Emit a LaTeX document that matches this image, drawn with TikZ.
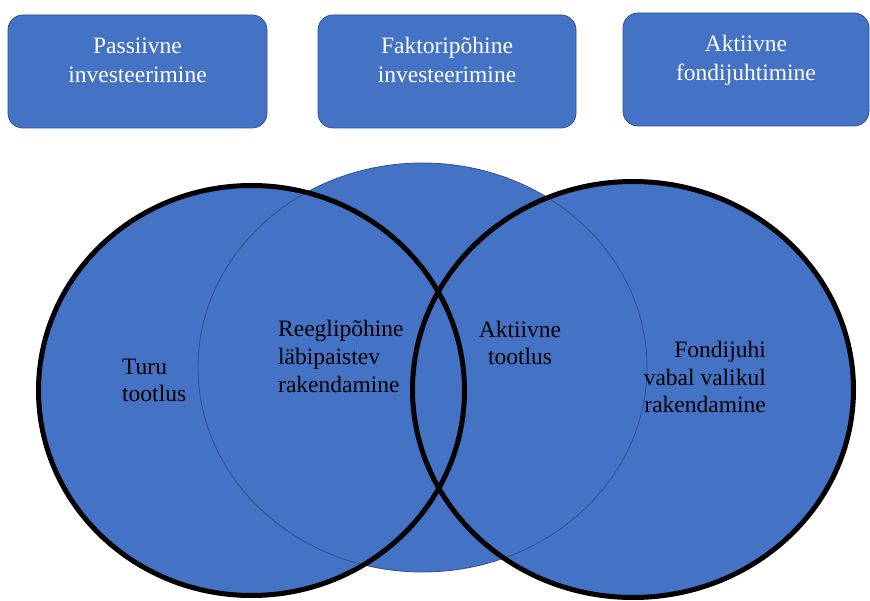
\documentclass[tikz,border=0pt]{standalone}
\usepackage{fontspec}
\setmainfont{Liberation Serif}
\usetikzlibrary{shapes.geometric}
\definecolor{vennBlue}{RGB}{68,114,196}
\definecolor{vennEdge}{RGB}{47,82,143}

\begin{document}
\begin{tikzpicture}[x=1pt, y=-1pt,
    tile/.style={rectangle, rounded corners=15pt, draw=vennEdge, fill=vennBlue,
                 minimum width=259pt, minimum height=113pt, line width=0.8pt},
    tiletext/.style={text=white, align=center, inner sep=0pt,
                     font=\fontsize{23.5}{29}\selectfont},
    blob/.style={ellipse, fill=vennBlue, inner sep=0pt},
    rim/.style={ellipse, draw=black, line width=5pt, inner sep=0pt},
    vtext/.style={text=black, inner sep=0pt, font=\fontsize{23.5}{27.5}\selectfont}
  ]
  \useasboundingbox (0,0) rectangle (870,601);

  % top row
  \node[tile] (passive) at (137.5,71.5) {};
  \node[tile, minimum width=258pt] (factor) at (447,71.5) {};
  \node[tile, minimum width=246pt] (active) at (746,69.5) {};
  \node[tiletext, anchor=base] (passivetxt) at (137.5,83) {Passiivne\\investeerimine};
  \node[tiletext, anchor=base] (factortxt) at (447,83) {Faktoripõhine\\investeerimine};
  \node[tiletext, anchor=base] (activetxt) at (746,81) {Aktiivne\\fondijuhtimine};

  % venn
  \node[blob, minimum width=426pt, minimum height=410pt] (market) at (251.5,390.5) {};
  \node[blob, minimum width=441pt, minimum height=416pt] (manager) at (633,389.5) {};
  \node[blob, draw=vennEdge, line width=0.8pt,
        minimum width=449pt, minimum height=409pt] (rules) at (422.5,367.5) {};
  \node[rim, minimum width=426pt, minimum height=410pt] (marketrim) at (market.center) {};
  \node[rim, minimum width=441pt, minimum height=416pt] (managerrim) at (manager.center) {};

  \node[vtext, align=left, anchor=base west] (turu) at (122,402) {Turu\\tootlus};
  \node[vtext, align=left, anchor=base west] (reegli) at (278,392) {Reeglipõhine\\läbipaistev\\rakendamine};
  \node[vtext, align=center, anchor=base] (alpha) at (520,365) {Aktiivne\\tootlus};
  \node[vtext, align=right, anchor=base east] (vabal) at (766,413) {Fondijuhi\\vabal valikul\\rakendamine};
\end{tikzpicture}
\end{document}
